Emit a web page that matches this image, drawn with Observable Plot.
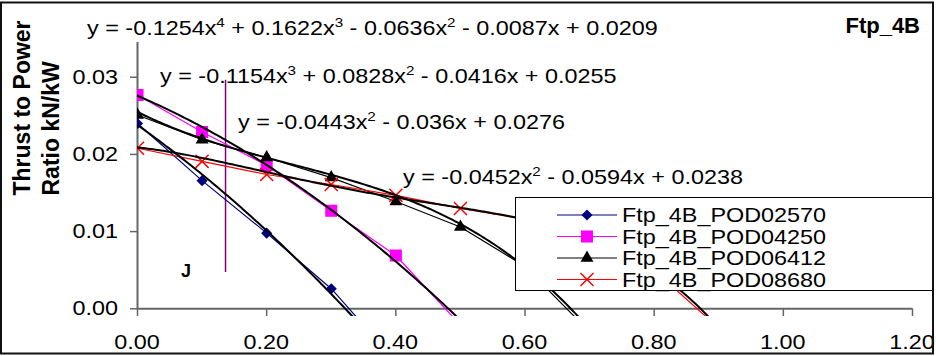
<!DOCTYPE html>
<html><head><meta charset="utf-8">
<script src="https://cdn.jsdelivr.net/npm/d3@7"></script>
<script src="https://cdn.jsdelivr.net/npm/@observablehq/plot@0.6"></script>
<style>
html,body{margin:0;padding:0;background:#fff;}
#wrap{position:relative;width:936px;height:356px;overflow:hidden;font-family:"Liberation Sans",Arial,sans-serif;}
#wrap svg{position:absolute;left:0;top:0;}
</style></head><body><div id="wrap"></div>
<script>
// ---- data ----
const xTicks = [0, 0.2, 0.4, 0.6, 0.8, 1.0, 1.2];
const yTicks = [0, 0.01, 0.02, 0.03];
const seriesNames = ["Ftp_4B_POD02570", "Ftp_4B_POD04250", "Ftp_4B_POD06412", "Ftp_4B_POD08680"];

const pod02570X = [0, 0.1, 0.2, 0.3, 0.4];
const pod02570Y = [0.0240, 0.0166, 0.0098, 0.0026, -0.0068];
const pod04250X = [0, 0.1, 0.2, 0.3, 0.4, 0.5];
const pod04250Y = [0.0277, 0.0229, 0.0186, 0.0127, 0.0069, -0.0021];
const pod06412X = [0, 0.1, 0.2, 0.3, 0.4, 0.5, 0.6, 0.7];
const pod06412Y = [0.0251, 0.0219, 0.0196, 0.0170, 0.0139, 0.0106, 0.0055, -0.0030];
const pod08680X = [0, 0.1, 0.2, 0.3, 0.4, 0.5, 0.6, 0.7, 0.8, 0.9];
const pod08680Y = [0.0208, 0.0191, 0.0174, 0.0161, 0.0147, 0.0130, 0.0116, 0.0092, 0.0050, -0.0025];

// polynomial trendline coefficients (highest power first), as printed on the chart
const trend02570 = [-0.0452, -0.0594, 0.0238];
const trend04250 = [-0.0443, -0.036, 0.0276];
const trend06412 = [-0.1154, 0.0828, -0.0416, 0.0255];
const trend08680 = [-0.1254, 0.1622, -0.0636, -0.0087, 0.0209];

const eqLabels = [
  ["y = -0.1254x", "4", " + 0.1622x", "3", " - 0.0636x", "2", " - 0.0087x + 0.0209"],
  ["y = -0.1154x", "3", " + 0.0828x", "2", " - 0.0416x + 0.0255"],
  ["y = -0.0443x", "2", " - 0.036x + 0.0276"],
  ["y = -0.0452x", "2", " - 0.0594x + 0.0238"]
];
const chartTag = "Ftp_4B";
const markLabel = "J";
const markX = [0.1363];
const markY = [0.0047, 0.0296];
const yTitle = "Thrust to Power\nRatio kN/kW";

// ---- build ----
const colors = ["#000080", "#FF00FF", "#000000", "#FF0000"];
const xsList = [pod02570X, pod04250X, pod06412X, pod08680X];
const ysList = [pod02570Y, pod04250Y, pod06412Y, pod08680Y];
const trends = [trend02570, trend04250, trend06412, trend08680];
const series = xsList.map((xs, k) => xs.map((x, i) => ({x, y: ysList[k][i], s: seriesNames[k]})));
const polyval = (c, x) => c.reduce((a, b) => a * x + b, 0);
const trendData = trends.map((c, k) =>
  d3.range(0, 1.0001, 0.004).map(x => ({x, y: polyval(c, x), s: seriesNames[k]})).filter(d => d.y > -0.004));

const SX = 1.17;
const yMin = -0.001, yMax = 0.0345;
const fmt = d3.format(".2f");

const marks = [
  Plot.axisY({ticks: yTicks, tickFormat: () => "", tickSize: 7,
    stroke: "#666", strokeWidth: 1.5, label: null}),
  Plot.ruleX(xTicks, {y1: 0, y2: yMin, stroke: "#666", strokeWidth: 1.5}),
  Plot.ruleY([0], {stroke: "#666", strokeWidth: 2}),
  Plot.ruleX([0], {y1: 0, y2: yMax, stroke: "#666", strokeWidth: 2}),
  Plot.ruleX(markX, {y1: markY[0], y2: markY[1], stroke: "#800080", strokeWidth: 1.5}),
  Plot.text([yTitle], {frameAnchor: "left", dx: -102, dy: 16, rotate: -90, fontWeight: "bold",
    fontSize: 23, lineHeight: 1.26, text: d => d, fill: "black"})
];
series.forEach((data, k) => {
  marks.push(Plot.line(data, {x: "x", y: "y", stroke: colors[k], strokeWidth: 1.2, clip: true}));
});
const dotOpts = [
  {symbol: "diamond2", r: 5, fill: colors[0]},
  {symbol: "square", r: 6.8, fill: colors[1]},
  {symbol: "triangle", r: 4.8, fill: colors[2]},
  {symbol: "times", r: 6, stroke: colors[3], strokeWidth: 1.5, fill: "none"}
];
series.forEach((data, k) => {
  marks.push(Plot.dot(data, {x: "x", y: "y", clip: true, ...dotOpts[k]}));
});
trendData.forEach(data => {
  marks.push(Plot.line(data, {x: "x", y: "y", stroke: "black", strokeWidth: 2, clip: true}));
});

const chart = Plot.plot({
  width: 936, height: 356,
  marginLeft: 137, marginRight: 24, marginTop: 42, marginBottom: 40,
  style: {fontFamily: "'Liberation Sans', Arial, sans-serif", fontSize: "20px", background: "white", color: "black"},
  x: {domain: [0, 1.2], axis: null},
  y: {domain: [yMin, yMax]},
  marks
});
document.getElementById("wrap").appendChild(chart);
const sx = chart.scale("x"), sy = chart.scale("y");

// ---- overlay: tick labels, annotations, legend, outer border ----
const ov = d3.select("#wrap").append("svg").attr("width", 936).attr("height", 356)
  .style("font-family", "'Liberation Sans', Arial, sans-serif");

xTicks.forEach(v => {
  ov.append("text").attr("transform", `translate(${sx.apply(v)},349) scale(${SX},1)`)
    .attr("text-anchor", "middle").attr("font-size", 20).attr("fill", "black").text(fmt(v));
});
yTicks.forEach(v => {
  ov.append("text").attr("transform", `translate(118,${sy.apply(v)}) scale(${SX},1)`)
    .attr("text-anchor", "end").attr("dy", "0.36em").attr("font-size", 20).attr("fill", "black").text(fmt(v));
});

const eqPos = [[87, 35], [160, 83], [238, 129], [403, 184]];
eqLabels.forEach((segs, k) => {
  const t = ov.append("text").attr("transform", `translate(${eqPos[k][0]},${eqPos[k][1]}) scale(${SX},1)`)
    .attr("font-size", 20).attr("fill", "black").style("white-space", "pre");
  segs.forEach((s, i) => {
    const ts = t.append("tspan").text(s);
    if (i % 2 === 1) ts.attr("font-size", 13).attr("dy", -8);
    else if (i > 0) ts.attr("dy", 8);
  });
});
ov.append("text").attr("x", 920).attr("y", 33).attr("text-anchor", "end")
  .attr("font-weight", "bold").attr("font-size", 22).text(chartTag);
ov.append("text").attr("x", 181).attr("y", 277)
  .attr("font-weight", "bold").attr("font-size", 18).text(markLabel);

// legend
const lg = ov.append("g");
lg.append("rect").attr("x", 515.5).attr("y", 197.5).attr("width", 418).attr("height", 93)
  .attr("fill", "white").attr("stroke", "black").attr("stroke-width", 1);
const symTypes = [d3.symbolDiamond2 || d3.symbolDiamond, d3.symbolSquare, d3.symbolTriangle, d3.symbolTimes || d3.symbolCross];
seriesNames.forEach((name, k) => {
  const cy = 215 + k * 21.5;
  lg.append("line").attr("x1", 557).attr("x2", 617).attr("y1", cy).attr("y2", cy)
    .attr("stroke", colors[k]).attr("stroke-width", 1.2);
  const r = dotOpts[k].r;
  const p = lg.append("path").attr("transform", `translate(587,${cy})`)
    .attr("d", d3.symbol(symTypes[k], Math.PI * r * r)());
  if (k === 3) p.attr("fill", "none").attr("stroke", colors[k]).attr("stroke-width", 1.5);
  else p.attr("fill", colors[k]);
  lg.append("text").attr("transform", `translate(622,${cy}) scale(${SX},1)`).attr("dy", "0.36em")
    .attr("font-size", 20).attr("fill", "black").text(name);
});

ov.append("rect").attr("x", 1).attr("y", 2.5).attr("width", 932).attr("height", 351)
  .attr("fill", "none").attr("stroke", "#111").attr("stroke-width", 2);
</script>
</body></html>
